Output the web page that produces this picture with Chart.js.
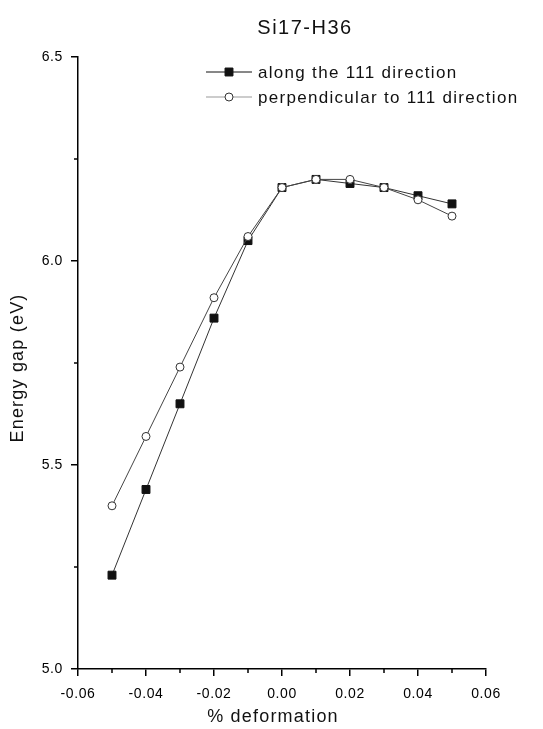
<!DOCTYPE html>
<html>
<head>
<meta charset="utf-8">
<script src="https://cdn.jsdelivr.net/npm/chart.js@4.4.1/dist/chart.umd.min.js"></script>
<style>
  html, body { margin: 0; padding: 0; background: #fff; }
  #wrap { width: 543px; height: 729px; }
</style>
</head>
<body>
<div id="wrap"><canvas id="gap-chart"></canvas></div>
<script>
// Values
const deformation = [-0.05, -0.04, -0.03, -0.02, -0.01, 0.00, 0.01, 0.02, 0.03, 0.04, 0.05];
const alongGap = [5.23, 5.44, 5.65, 5.86, 6.05, 6.18, 6.20, 6.19, 6.18, 6.16, 6.14];
const perpGap = [5.40, 5.57, 5.74, 5.91, 6.06, 6.18, 6.20, 6.20, 6.18, 6.15, 6.11];
const seriesNames = ['along the 111 direction', 'perpendicular to 111 direction'];
const xMinorTicks = [-0.05, -0.03, -0.01, 0.01, 0.03, 0.05];
const yMinorTicks = [5.25, 5.75, 6.25];

const FONT = "'Liberation Sans', Arial, sans-serif";

document.addEventListener('DOMContentLoaded', () => {

    // the reference uses a wide, loosely spaced sans; tracking for the tick labels
    const spacing = {
        id: 'spacing',
        beforeDraw(chart) {
            chart.ctx.letterSpacing = '0.6px';
        }
    };

    // title, axis titles, legend and minor ticks drawn by hand
    const extras = {
        id: 'extras',
        afterDraw(chart) {
            const ctx = chart.ctx;
            const area = chart.chartArea;
            const xs = chart.scales.x, ys = chart.scales.y;
            ctx.save();

            // minor ticks (shorter than the major ones)
            ctx.strokeStyle = '#000';
            ctx.lineWidth = 1.5;
            xMinorTicks.forEach(v => {
                const px = Math.round(xs.getPixelForValue(v));
                ctx.beginPath();
                ctx.moveTo(px, area.bottom);
                ctx.lineTo(px, area.bottom + 4);
                ctx.stroke();
            });
            yMinorTicks.forEach(v => {
                const py = Math.round(ys.getPixelForValue(v));
                ctx.beginPath();
                ctx.moveTo(area.left, py);
                ctx.lineTo(area.left - 4, py);
                ctx.stroke();
            });

            ctx.fillStyle = '#111';
            ctx.textAlign = 'center';
            ctx.textBaseline = 'middle';

            // title
            ctx.letterSpacing = '1.5px';
            ctx.font = '20px ' + FONT;
            ctx.fillText('Si17-H36', (area.left + area.right) / 2 + 23, 28);

            // axis titles
            ctx.letterSpacing = '1.2px';
            ctx.font = '18px ' + FONT;
            ctx.fillText('% deformation', (area.left + area.right) / 2 - 9, 717);
            ctx.save();
            ctx.translate(18, (area.top + area.bottom) / 2 + 5);
            ctx.rotate(-Math.PI / 2);
            ctx.fillText('Energy gap (eV)', 0, 0);
            ctx.restore();

            // legend
            const lx = area.left + 128;
            chart.data.datasets.forEach((ds, i) => {
                const ly = area.top + 15 + i * 25;
                ctx.strokeStyle = i === 0 ? '#111' : '#999';
                ctx.lineWidth = 1;
                ctx.beginPath();
                ctx.moveTo(lx, ly);
                ctx.lineTo(lx + 46, ly);
                ctx.stroke();
                ctx.fillStyle = ds.pointBackgroundColor;
                ctx.strokeStyle = ds.pointBorderColor;
                ctx.beginPath();
                if (ds.pointStyle === 'rect') {
                    const s = ds.pointRadius * Math.SQRT1_2;
                    ctx.rect(lx + 23 - s, ly - s, 2 * s, 2 * s);
                } else {
                    ctx.arc(lx + 23, ly, ds.pointRadius, 0, Math.PI * 2);
                }
                ctx.fill();
                ctx.stroke();
                ctx.fillStyle = '#111';
                ctx.letterSpacing = '1.3px';
                ctx.font = '17px ' + FONT;
                ctx.textAlign = 'left';
                ctx.fillText(ds.label, lx + 52, ly + 1);
            });
            ctx.restore();
        }
    };

    const ctx = document.getElementById('gap-chart').getContext('2d');
    new Chart(ctx, {
        type: 'line',
        data: {
            labels: deformation,
            datasets: [{
                label: seriesNames[0],
                data: deformation.map((x, i) => ({ x: x, y: alongGap[i] })),
                borderColor: '#333',
                borderWidth: 1,
                pointStyle: 'rect',
                pointRadius: 5.6,
                pointBackgroundColor: '#111',
                pointBorderColor: '#111',
                pointBorderWidth: 1,
                order: 1
            }, {
                label: seriesNames[1],
                data: deformation.map((x, i) => ({ x: x, y: perpGap[i] })),
                borderColor: '#444',
                borderWidth: 1,
                pointStyle: 'circle',
                pointRadius: 4,
                pointBackgroundColor: '#fff',
                pointBorderColor: '#333',
                pointBorderWidth: 1,
                order: 0
            }]
        },
        options: {
            responsive: true,
            maintainAspectRatio: false,
            animation: false,
            layout: { padding: { top: 57, right: 57, left: 0, bottom: 0 } },
            plugins: {
                legend: { display: false },
                tooltip: { enabled: false }
            },
            scales: {
                x: {
                    type: 'linear',
                    min: -0.06,
                    max: 0.06,
                    afterFit: (scale) => { scale.height = 60; },
                    border: { display: true, color: '#000', width: 1.5 },
                    grid: { display: true, drawOnChartArea: false, tickLength: 7, color: '#000', lineWidth: 1.5 },
                    ticks: {
                        stepSize: 0.02,
                        padding: 10,
                        color: '#000',
                        font: { family: FONT, size: 14 },
                        maxRotation: 0,
                        callback: (v) => v.toFixed(2)
                    }
                },
                y: {
                    min: 5.0,
                    max: 6.5,
                    afterFit: (scale) => { scale.width = 78; },
                    border: { display: true, color: '#000', width: 1.5 },
                    grid: { display: true, drawOnChartArea: false, tickLength: 7, color: '#000', lineWidth: 1.5 },
                    ticks: {
                        stepSize: 0.5,
                        padding: 8,
                        color: '#000',
                        font: { family: FONT, size: 14 },
                        callback: (v) => v.toFixed(1)
                    }
                }
            }
        },
        plugins: [spacing, extras]
    });
});
</script>
</body>
</html>
